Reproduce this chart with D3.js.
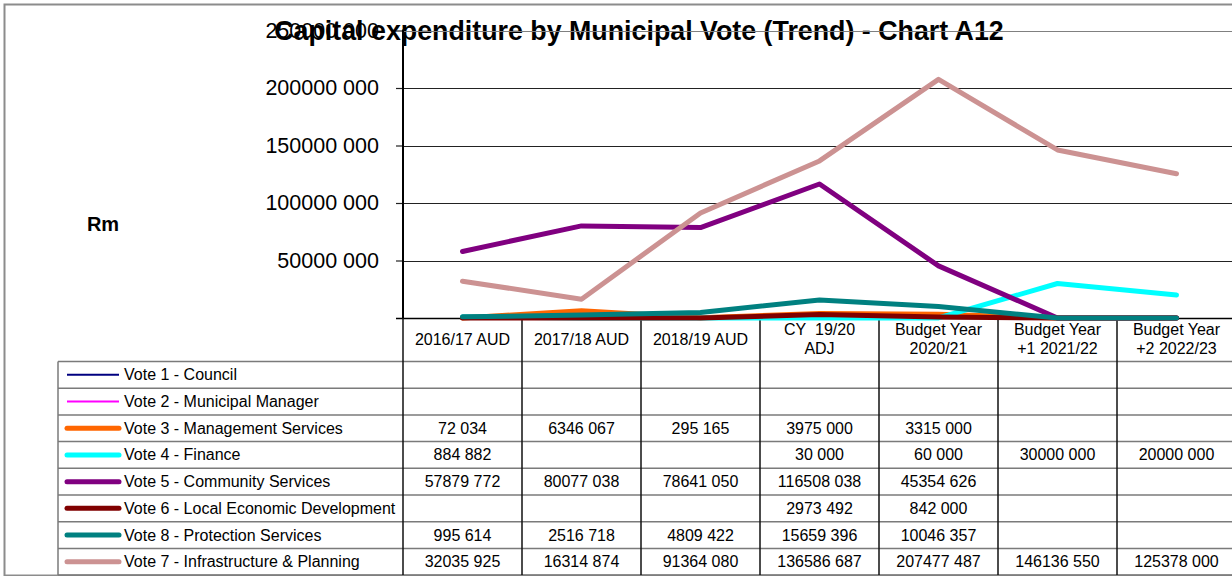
<!DOCTYPE html>
<html>
<head>
<meta charset="utf-8">
<script src="https://cdn.jsdelivr.net/npm/d3@7"></script>
<style>
  html, body { margin: 0; padding: 0; background: #fff; }
  svg { display: block; font-family: "Liberation Sans", Arial, sans-serif; }
</style>
</head>
<body>
<svg id="chart" width="1232" height="576"></svg>
<script>
// Capital expenditure per vote, in rand (blank cells are null)
const categories = [
  ["2016/17 AUD"],
  ["2017/18 AUD"],
  ["2018/19 AUD"],
  ["CY\u00a0 19/20", "ADJ"],
  ["Budget Year", "2020/21"],
  ["Budget Year", "+1 2021/22"],
  ["Budget Year", "+2 2022/23"]
];
const seriesNames = [
  "Vote 1 - Council",
  "Vote 2 - Municipal Manager",
  "Vote 3 - Management Services",
  "Vote 4 - Finance",
  "Vote 5 - Community Services",
  "Vote 6 - Local Economic Development",
  "Vote 8 - Protection Services",
  "Vote 7 - Infrastructure & Planning"
];
const vote1 = [null, null, null, null, null, null, null];
const vote2 = [null, null, null, null, null, null, null];
const vote3 = [72034, 6346067, 295165, 3975000, 3315000, null, null];
const vote4 = [884882, null, null, 30000, 60000, 30000000, 20000000];
const vote5 = [57879772, 80077038, 78641050, 116508038, 45354626, null, null];
const vote6 = [null, null, null, 2973492, 842000, null, null];
const vote8 = [995614, 2516718, 4809422, 15659396, 10046357, null, null];
const vote7 = [32035925, 16314874, 91364080, 136586687, 207477487, 146136550, 125378000];
const yTicks = [0, 50000000, 100000000, 150000000, 200000000, 250000000];

const seriesValues = [vote1, vote2, vote3, vote4, vote5, vote6, vote8, vote7];
const seriesColors = ["#000080", "#ff00ff", "#ff6600", "#00ffff", "#800080", "#800000", "#008080", "#cc9292"];
const seriesWidths = [2, 2, 5, 5, 5, 5, 5, 5];

// "57879772" -> "57879 772"
function fmt(v) {
  if (v == null) return "";
  const s = String(Math.round(v));
  if (s.length <= 3) return s;
  return s.slice(0, s.length - 3) + " " + s.slice(s.length - 3);
}

const svg = d3.select("#chart");

// layout
const plotLeft = 403, colW = 119;
const plotTop = 30.5, plotBottom = 318;
const legendLeft = 58;
const headerBottom = 361.5, rowH = 26.7;
const cellFont = 16;

const x = d3.scaleBand()
  .domain(d3.range(categories.length))
  .range([plotLeft, plotLeft + colW * categories.length])
  .padding(0);
const y = d3.scaleLinear().domain([0, 250000000]).range([plotBottom, plotTop]);

// outer frame
svg.append("rect")
  .attr("x", 4.5).attr("y", 4.5)
  .attr("width", 1240).attr("height", 571)
  .attr("fill", "none").attr("stroke", "#8c8c8c").attr("stroke-width", 2);

// title
svg.append("text")
  .attr("x", 639).attr("y", 40)
  .attr("text-anchor", "middle")
  .attr("font-size", 26.8).attr("font-weight", "bold")
  .text("Capital expenditure by Municipal Vote (Trend) - Chart A12");

// horizontal gridlines
svg.append("g")
  .selectAll("line")
  .data(yTicks.filter(d => d > 0))
  .join("line")
  .attr("x1", plotLeft).attr("x2", 1240)
  .attr("y1", d => Math.round(y(d)) + 0.5).attr("y2", d => Math.round(y(d)) + 0.5)
  .attr("stroke", d => d === 250000000 ? "#808080" : "#222")
  .attr("stroke-width", 1.2);

// y axis
const yAxis = d3.axisLeft(y)
  .tickValues(yTicks.filter(d => d > 0))
  .tickSize(7)
  .tickPadding(17)
  .tickFormat(fmt);
const gy = svg.append("g").attr("transform", `translate(${plotLeft},0)`).call(yAxis);
gy.select(".domain").remove();
gy.selectAll(".tick line").attr("stroke", "#222").attr("stroke-width", 1.2);
gy.selectAll(".tick text")
  .attr("font-size", 21.5)
  .attr("fill", "#000")
  .attr("font-family", "'Liberation Sans', Arial, sans-serif");
svg.append("line")
  .attr("x1", plotLeft).attr("x2", plotLeft)
  .attr("y1", plotTop - 1).attr("y2", plotBottom + 1)
  .attr("stroke", "#000").attr("stroke-width", 2);
svg.append("line")
  .attr("x1", plotLeft - 7).attr("x2", 1240)
  .attr("y1", plotBottom + 0.5).attr("y2", plotBottom + 0.5)
  .attr("stroke", "#000").attr("stroke-width", 1.5);

// y axis unit
svg.append("text")
  .attr("x", 103).attr("y", 231)
  .attr("text-anchor", "middle")
  .attr("font-size", 20).attr("font-weight", "bold")
  .text("Rm");

// data table
const tableRight = 1240;
const rowTop = i => headerBottom + i * rowH;
const tbl = svg.append("g");

// header cells
const head = tbl.append("g").selectAll("g").data(categories).join("g");
head.each(function (lines, i) {
  const cx = x(i) + x.bandwidth() / 2;
  const t = d3.select(this).append("text")
    .attr("text-anchor", "middle")
    .attr("font-size", cellFont);
  const mid = (plotBottom + headerBottom) / 2;
  lines.forEach((ln, k) => {
    const off = lines.length === 1 ? 5.5 : (k === 0 ? -4.5 : 14.5);
    t.append("tspan").attr("x", cx).attr("y", mid + off).text(ln);
  });
});

// horizontal row lines
tbl.append("g").selectAll("line")
  .data(d3.range(seriesNames.length + 1))
  .join("line")
  .attr("x1", legendLeft).attr("x2", tableRight)
  .attr("y1", i => rowTop(i)).attr("y2", i => rowTop(i))
  .attr("stroke", "#7a7a7a").attr("stroke-width", 1.5);

// vertical column lines
tbl.append("g").selectAll("line")
  .data(d3.range(categories.length + 1))
  .join("line")
  .attr("x1", i => plotLeft + i * colW).attr("x2", i => plotLeft + i * colW)
  .attr("y1", plotBottom).attr("y2", rowTop(seriesNames.length))
  .attr("stroke", "#111").attr("stroke-width", 1.5);
tbl.append("line")
  .attr("x1", legendLeft).attr("x2", legendLeft)
  .attr("y1", rowTop(0)).attr("y2", rowTop(seriesNames.length))
  .attr("stroke", "#7a7a7a").attr("stroke-width", 1.5);

// legend keys and row labels
const rows = tbl.append("g").selectAll("g").data(seriesNames).join("g")
  .attr("transform", (d, i) => `translate(0,${rowTop(i) + rowH / 2})`);
rows.append("line")
  .attr("x1", 67).attr("x2", 119)
  .attr("y1", 0).attr("y2", 0)
  .attr("stroke", (d, i) => seriesColors[i])
  .attr("stroke-width", (d, i) => seriesWidths[i] === 2 ? 2 : 5)
  .attr("stroke-linecap", (d, i) => seriesWidths[i] === 2 ? "butt" : "round");
rows.append("text")
  .attr("x", 124).attr("y", 5.5)
  .attr("font-size", cellFont)
  .text(d => d);

// value cells
rows.each(function (d, i) {
  d3.select(this).selectAll("text.val")
    .data(seriesValues[i])
    .join("text")
    .attr("class", "val")
    .attr("x", (v, j) => x(j) + x.bandwidth() / 2)
    .attr("y", 5.5)
    .attr("text-anchor", "middle")
    .attr("font-size", cellFont)
    .text(v => fmt(v));
});

// trend lines (blank cells plot at zero)
const line = d3.line()
  .x((v, j) => x(j) + x.bandwidth() / 2)
  .y(v => y(v == null ? 0 : v));
svg.append("g").selectAll("path")
  .data(seriesValues)
  .join("path")
  .attr("d", line)
  .attr("fill", "none")
  .attr("stroke", (d, i) => seriesColors[i])
  .attr("stroke-width", (d, i) => seriesWidths[i])
  .attr("stroke-linejoin", "round")
  .attr("stroke-linecap", "round");
</script>
</body>
</html>
